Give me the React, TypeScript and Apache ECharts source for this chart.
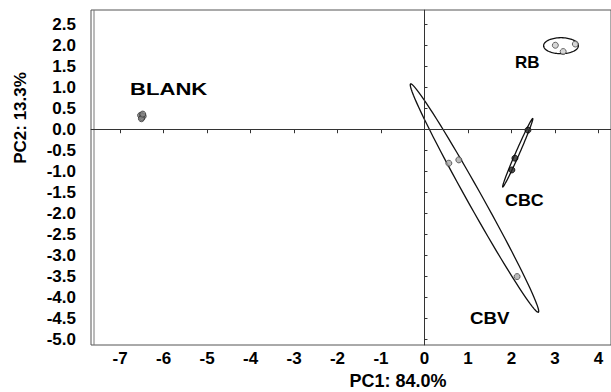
import React, { useEffect, useRef } from "react";
import * as echarts from "echarts";

// Tick labels
const xTicks = [-7, -6, -5, -4, -3, -2, -1, 0, 1, 2, 3, 4];
const yTicks = [-5, -4.5, -4, -3.5, -3, -2.5, -2, -1.5, -1, -0.5, 0, 0.5, 1, 1.5, 2, 2.5];

// Scores (PC1, PC2) per group
const blankPoints = [[-6.53, 0.33], [-6.47, 0.31], [-6.51, 0.25], [-6.48, 0.36]];
const rbPoints = [[3.01, 2.0], [3.47, 2.03], [3.19, 1.85]];
const cbcPoints = [[2.38, -0.02], [2.08, -0.69], [2.01, -0.97]];
const cbvPoints = [[0.56, -0.81], [0.79, -0.73], [2.13, -3.51]];

// Confidence ellipses: [centerX, centerY, semiMajorX, semiMajorY, semiMinorX, semiMinorY]
const ellipses = [
  [3.14, 1.99, 0.4, 0, 0, 0.19],
  [1.15, -1.64, 1.47, -2.72, 0.15, 0.085],
  [2.145, -0.56, 0.345, 0.815, 0.04, -0.018],
  [-6.5, 0.3, 0.06, 0, 0, 0.09],
];

const groupLabels = [
  { text: "BLANK", x: 130, y: 89, scaleX: 1.3 },
  { text: "RB", x: 515, y: 62, scaleX: 1 },
  { text: "CBC", x: 505, y: 200, scaleX: 1.05 },
  { text: "CBV", x: 470, y: 318, scaleX: 1.1 },
];

export default function App() {
  const ref = useRef<HTMLDivElement>(null);
  useEffect(() => {
    const chart = echarts.init(ref.current!, null, { renderer: "svg" });
    const labelFont = "Liberation Sans, Arial, sans-serif";
    const dot = (color: string, border: string) => ({
      symbol: "circle",
      symbolSize: 6,
      itemStyle: { color, borderColor: border, borderWidth: 1 },
    });
    chart.setOption({
      animation: false,
      backgroundColor: "#fff",
      grid: {
        left: 91,
        right: -2,
        top: 10,
        bottom: 47,
        show: true,
        borderColor: "#555",
        borderWidth: 1,
      },
      xAxis: {
        type: "value",
        min: -7.67,
        max: 4.29,
        splitLine: { show: false },
        axisLine: { show: true, lineStyle: { color: "#555" } },
        axisTick: { show: true, customValues: xTicks, length: 4, lineStyle: { color: "#333" } },
        axisLabel: {
          customValues: xTicks,
          color: "#000",
          fontWeight: "bold",
          fontSize: 17,
          fontFamily: labelFont,
          margin: 5,
        },
      },
      yAxis: {
        type: "value",
        min: -5.14,
        max: 2.84,
        splitLine: { show: false },
        axisLine: { show: true, lineStyle: { color: "#555" } },
        axisTick: { show: true, inside: true, customValues: yTicks, length: 3, lineStyle: { color: "#333" } },
        axisLabel: {
          customValues: yTicks,
          formatter: (v: number) => v.toFixed(1),
          color: "#000",
          fontWeight: "bold",
          fontSize: 17,
          fontFamily: labelFont,
          margin: 15,
          padding: [7, 0, 0, 0],
        },
      },
      graphic: [
        {
          type: "line",
          shape: { x1: 94, y1: 10, x2: 94, y2: 345 },
          style: { stroke: "#777", lineWidth: 1 },
          silent: true,
        },
        {
          type: "text",
          x: 398,
          y: 381,
          style: {
            text: "PC1: 84.0%",
            fill: "#000",
            font: `bold 18px ${labelFont}`,
            textAlign: "center",
            verticalAlign: "middle",
          },
          silent: true,
        },
        {
          type: "text",
          x: 20,
          y: 118,
          rotation: Math.PI / 2,
          style: {
            text: "PC2: 13.3%",
            fill: "#000",
            font: `bold 17px ${labelFont}`,
            textAlign: "center",
            verticalAlign: "middle",
          },
          silent: true,
        },
        ...groupLabels.map((g) => ({
          type: "text",
          x: g.x,
          y: g.y,
          scaleX: g.scaleX,
          style: {
            text: g.text,
            fill: "#000",
            font: `bold 17px ${labelFont}`,
            verticalAlign: "middle",
            textAlign: "left",
          },
          silent: true,
        })),
      ],
      series: [
        {
          type: "custom",
          data: ellipses,
          encode: { x: 0, y: 1 },
          silent: true,
          z: 3,
          renderItem: (params: any, api: any) => {
            const cx = api.value(0), cy = api.value(1);
            const ax = api.value(2), ay = api.value(3);
            const bx = api.value(4), by = api.value(5);
            const pts: number[][] = [];
            for (let i = 0; i < 90; i++) {
              const t = (i / 90) * Math.PI * 2;
              const c = Math.cos(t), s = Math.sin(t);
              pts.push(api.coord([cx + c * ax + s * bx, cy + c * ay + s * by]));
            }
            return {
              type: "polygon",
              shape: { points: pts },
              style: { fill: "none", stroke: "#111", lineWidth: 1.3 },
            };
          },
        },
        {
          type: "scatter",
          data: [],
          markLine: {
            silent: true,
            symbol: "none",
            label: { show: false },
            lineStyle: { color: "#333", width: 1, type: "solid" },
            data: [{ xAxis: 0 }, { yAxis: 0 }],
          },
        },
        { type: "scatter", data: blankPoints, z: 4, ...dot("#888", "#333") },
        { type: "scatter", data: rbPoints, z: 4, ...dot("#ccc", "#444") },
        { type: "scatter", data: cbcPoints, z: 4, ...dot("#222", "#000") },
        { type: "scatter", data: cbvPoints, z: 4, ...dot("#aaa", "#444") },
      ],
    });
    return () => chart.dispose();
  }, []);
  return <div ref={ref} style={{ position: "fixed", left: 0, top: 0, width: 611, height: 392 }} />;
}
